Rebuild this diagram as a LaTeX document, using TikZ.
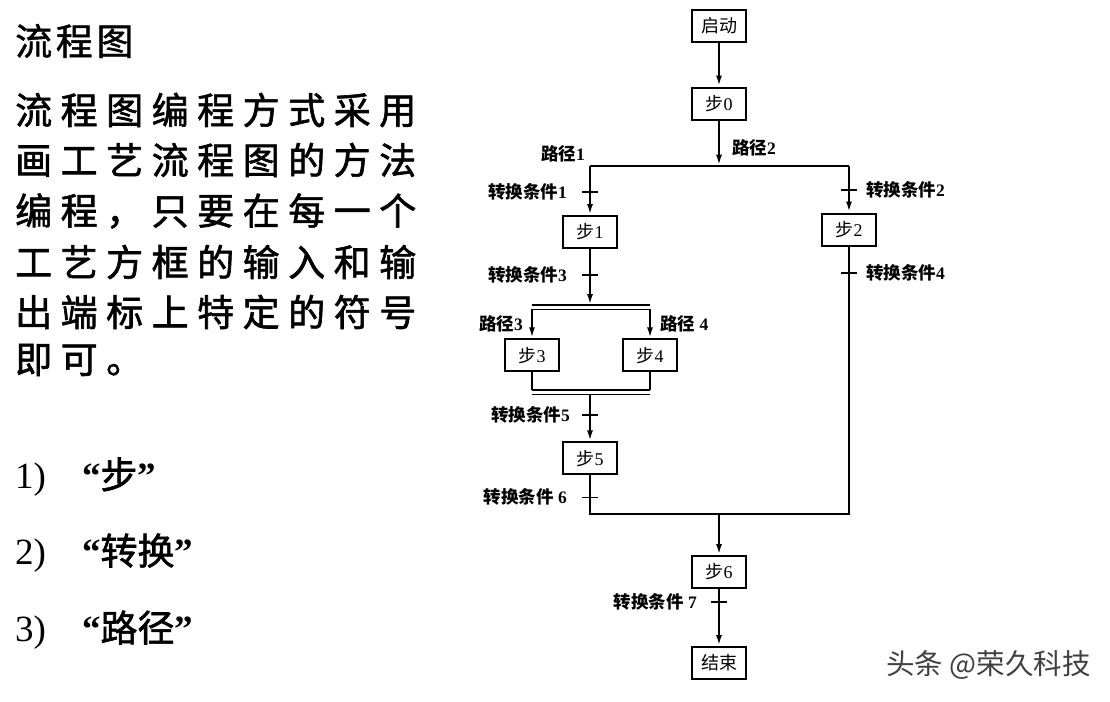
\documentclass[tikz,border=0pt]{standalone}
\usepackage{fontspec}
\setmainfont{Liberation Serif}
\newfontfamily\cjk{Noto Sans CJK SC}
\newfontfamily\cjkheavy[FakeBold=1.6]{Noto Sans CJK SC}
\newfontfamily\cjktitle[LetterSpace=10,FakeBold=1.2]{Noto Sans CJK SC}
\newfontfamily\cjkwide[LetterSpace=23,FakeBold=1.6]{Noto Sans CJK SC}
\newcommand{\zh}[1]{{\cjk #1}}
\usetikzlibrary{arrows.meta,positioning}
\tikzset{
  stepbox/.style={draw, line width=2pt, minimum width=54pt, minimum height=32pt,
    inner sep=0pt, font=\fontsize{18}{18}\selectfont},
  flow/.style={line width=2.3pt},
  flowarrow/.style={flow, -{Latex[length=11pt,width=6pt]}},
  parline/.style={line width=1.5pt},
  tickmark/.style={line width=1.6pt},
  cond/.style={inner sep=1pt, font=\fontsize{17.5}{17.5}\selectfont\bfseries},
  bigtext/.style={anchor=west, inner sep=0pt, font=\fontsize{37}{37}\selectfont}
}
\begin{document}
\begin{tikzpicture}[x=1pt,y=-1pt]
    \useasboundingbox (0,0) rectangle (1110,701);

% left column: title, text and list
    \node[bigtext] (title) at (15,41) {\cjktitle 流程图};
    \node[bigtext] (para1) at (15,110) {\cjkwide 流程图编程方式采用};
    \node[bigtext] (para2) at (15,160) {\cjkwide 画工艺流程图的方法};
    \node[bigtext] (para3) at (15,211) {\cjkwide 编程，只要在每一个};
    \node[bigtext] (para4) at (15,262) {\cjkwide 工艺方框的输入和输};
    \node[bigtext] (para5) at (15,312) {\cjkwide 出端标上特定的符号};
    \node[bigtext] (para6) at (15,360) {\cjkwide 即可。};
    \node[bigtext] (item1) at (15,477) {1)\hspace{36pt}{\bfseries“}{\cjkheavy 步}{\bfseries”}};
    \node[bigtext] (item2) at (15,553) {2)\hspace{36pt}{\bfseries“}{\cjkheavy 转换}{\bfseries”}};
    \node[bigtext] (item3) at (15,630) {3)\hspace{36pt}{\bfseries“}{\cjkheavy 路径}{\bfseries”}};

% steps
    \node[stepbox] (start) at (719,26) {\zh{启动}};
    \node[stepbox] (s0) at (719,103.5) {\zh{步}0};
    \node[stepbox] (s1) at (590,232) {\zh{步}1};
    \node[stepbox] (s2) at (849,229.5) {\zh{步}2};
    \node[stepbox] (s3) at (532,355.3) {\zh{步}3};
    \node[stepbox] (s4) at (650,355.3) {\zh{步}4};
    \node[stepbox] (s5) at (590,458.3) {\zh{步}5};
    \node[stepbox] (s6) at (719,572) {\zh{步}6};
    \node[stepbox] (stop) at (719,663) {\zh{结束}};

% branch points and joins
    \coordinate (brL) at (590,165.7);
    \coordinate (brM) at (719,165.7);
    \coordinate (brR) at (849,165.7);
    \coordinate (pM) at (590,305);
    \coordinate (pL) at (532,305);
    \coordinate (pR) at (650,305);
    \coordinate (pL2) at (532,309.3);
    \coordinate (pR2) at (650,309.3);
    \coordinate (qL) at (532,390);
    \coordinate (qR) at (650,390);
    \coordinate (qL2) at (532,394.7);
    \coordinate (qM2) at (590,394.7);
    \coordinate (qR2) at (650,394.7);
    \coordinate (jL) at (590,514);
    \coordinate (jM) at (719,514);
    \coordinate (jR) at (849,514);

% transitions
    \coordinate (t1) at (590,191.7);
    \coordinate (t2) at (849,190);
    \coordinate (t3) at (590,275);
    \coordinate (t4) at (849,272.7);
    \coordinate (t5) at (590,415);
    \coordinate (t6) at (590,497.3);
    \coordinate (t7) at (719,601.7);

% connectors
    \draw[flowarrow] (start) -- (s0);
    \draw[flowarrow] (s0) -- (brM);
    \draw[flow] (brL) -- (brR);
    \draw[flowarrow] (brL) -- (s1);
    \draw[flowarrow] (brR) -- (s2);
    \draw[flowarrow] (s1) -- (pM);
    \draw[parline] (pL) -- (pR);
    \draw[parline] (pL2) -- (pR2);
    \draw[flowarrow] (pL2) -- (s3);
    \draw[flowarrow] (pR2) -- (s4);
    \draw[flow] (s3) -- (qL);
    \draw[flow] (s4) -- (qR);
    \draw[parline] (qL) -- (qR);
    \draw[parline] (qL2) -- (qR2);
    \draw[flowarrow] (qM2) -- (s5);
    \draw[flow] (s5) -- (jL) -- (jR) -- (s2);
    \draw[flowarrow] (jM) -- (s6);
    \draw[flowarrow] (s6) -- (stop);

% transition marks
    \foreach \t in {t1,t2,t3,t4,t5,t6,t7}
        \draw[tickmark] ([xshift=-8pt]\t) -- ([xshift=8pt]\t);

% labels
    \node[cond, left=4pt of brL, yshift=12pt] (path1) {\zh{路径}1};
    \node[cond, right=12pt of brM, yshift=18pt] (path2) {\zh{路径}2};
    \node[cond, left=8pt of pL2, yshift=-15pt] (path3) {\zh{路径}3};
    \node[cond, right=9pt of pR2, yshift=-15pt] (path4) {\zh{路径} 4};
    \node[cond, left=22pt of t1] (c1) {\zh{转换条件}1};
    \node[cond, right=16pt of t2] (c2) {\zh{转换条件}2};
    \node[cond, left=22pt of t3] (c3) {\zh{转换条件}3};
    \node[cond, right=16pt of t4] (c4) {\zh{转换条件}4};
    \node[cond, left=19pt of t5] (c5) {\zh{转换条件}5};
    \node[cond, left=22pt of t6] (c6) {\zh{转换条件} 6};
    \node[cond, left=21pt of t7] (c7) {\zh{转换条件} 7};

% watermark
    \node[anchor=west, inner sep=0pt, text=black!75, font=\cjk\fontsize{28.5}{28.5}\selectfont]
        (mark) at (886,665) {头条 @荣久科技};
\end{tikzpicture}
\end{document}
